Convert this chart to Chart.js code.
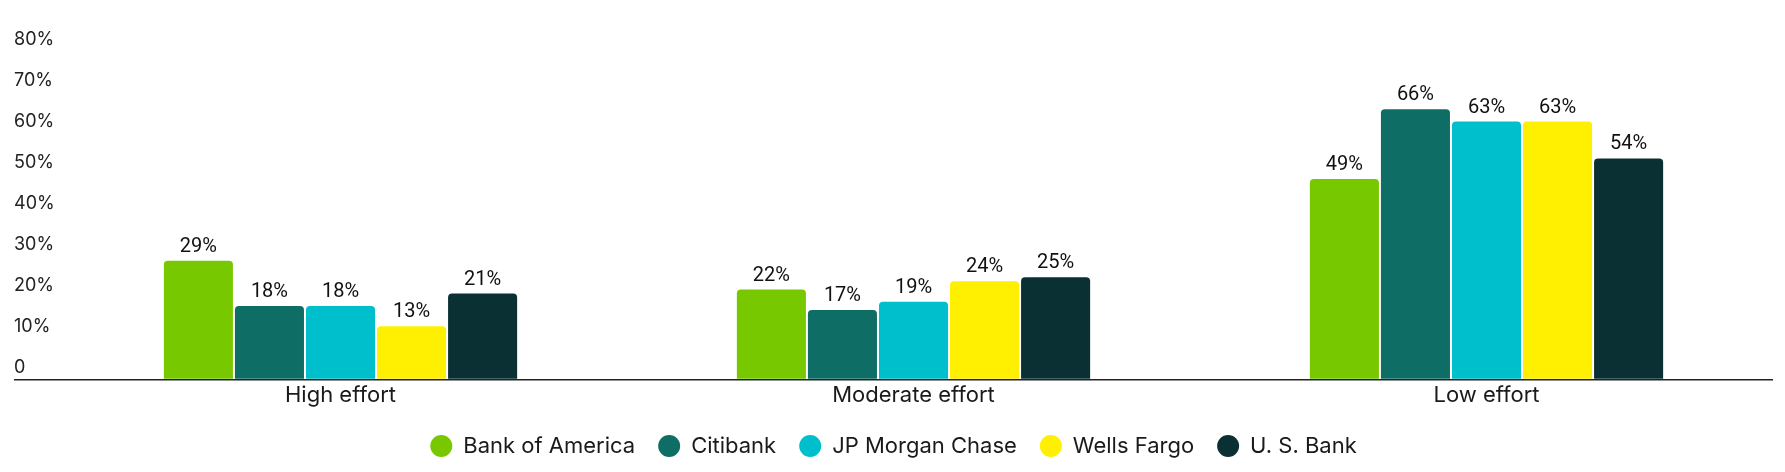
<!DOCTYPE html>
<html>
<head>
<meta charset="utf-8">
<script src="https://cdn.jsdelivr.net/npm/chart.js@4.4.1/dist/chart.umd.min.js"></script>
<style>
  html, body { margin: 0; padding: 0; background: #fff; }
  #wrap { width: 1785px; height: 472px; position: relative; }
</style>
</head>
<body>
<div id="wrap"><canvas id="effortChart"></canvas></div>
<script>
const categories = ["High effort", "Moderate effort", "Low effort"];
const banks = ["Bank of America", "Citibank", "JP Morgan Chase", "Wells Fargo", "U. S. Bank"];
const bankColors = ["#78c800", "#0e6e65", "#00bfcc", "#ffef00", "#0a3034"];

const bankOfAmerica = [29, 22, 49];
const citibank = [18, 17, 66];
const jpMorgan = [18, 19, 63];
const wellsFargo = [13, 24, 63];
const usBank = [21, 25, 54];

const yTicks = [0, 10, 20, 30, 40, 50, 60, 70, 80];

const seriesValues = [bankOfAmerica, citibank, jpMorgan, wellsFargo, usBank];

// value labels above each bar
const barLabels = {
  id: "barLabels",
  afterDatasetsDraw(chart) {
    const ctx = chart.ctx;
    ctx.save();
    ctx.font = "20px Roboto";
    ctx.fillStyle = "#111";
    ctx.textAlign = "center";
    ctx.textBaseline = "bottom";
    chart.data.datasets.forEach((ds, i) => {
      chart.getDatasetMeta(i).data.forEach((bar, j) => {
        ctx.fillText(ds.data[j] + "%", bar.x, bar.y - 4);
      });
    });
    ctx.restore();
  }
};

new Chart(document.getElementById("effortChart"), {
  type: "bar",
  data: {
    labels: categories,
    datasets: banks.map((name, i) => ({
      label: name,
      data: seriesValues[i],
      backgroundColor: bankColors[i],
      borderRadius: { topLeft: 4, topRight: 4 },
      borderSkipped: "bottom",
      barPercentage: 0.972,
      categoryPercentage: 0.62
    }))
  },
  options: {
    responsive: true,
    maintainAspectRatio: false,
    animation: false,
    layout: { padding: { left: 14, right: 12, top: 52, bottom: 5 } },
    plugins: {
      legend: {
        position: "bottom",
        labels: {
          usePointStyle: true,
          pointStyle: "circle",
          pointStyleWidth: 22,
          boxHeight: 15.6,
          padding: 23,
          color: "#1a1a1a",
          font: { family: "Inter", size: 22 }
        }
      },
      tooltip: { enabled: false }
    },
    scales: {
      x: {
        grid: { display: false, drawTicks: false },
        border: { display: false },
        ticks: {
          padding: 3,
          color: "#1a1a1a",
          font: { family: "Inter", size: 22 }
        }
      },
      y: {
        min: 0,
        max: 80,
        afterBuildTicks: s => { s.ticks = yTicks.map(v => ({ value: v })); },
        afterFit: s => { s.width = 40; },
        border: { display: false },
        grid: {
          drawOnChartArea: true,
          tickLength: 40,
          lineWidth: 1.5,
          color: c => (c.tick && c.tick.value === 0 ? "#222" : "rgba(0,0,0,0)")
        },
        ticks: {
          crossAlign: "far",
          labelOffset: -12,
          color: "#222",
          font: { family: "Inter", size: 18 },
          callback: v => (v === 0 ? "0" : v + "%")
        }
      }
    }
  },
  plugins: [barLabels]
});
</script>
</body>
</html>
